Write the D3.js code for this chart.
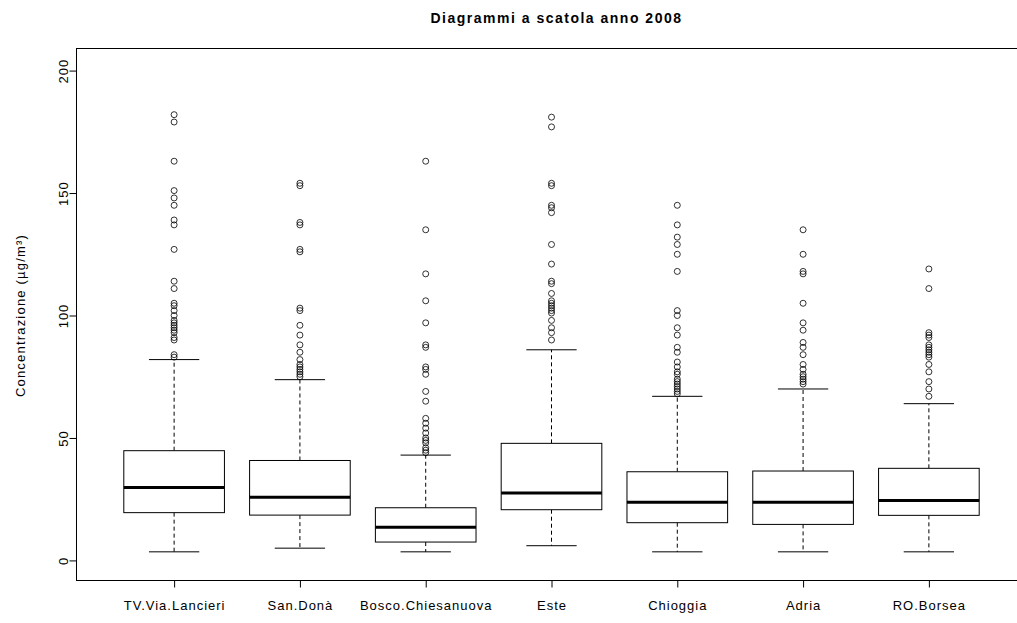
<!doctype html>
<html>
    <head>
        <meta charset="utf-8">
        <script src="https://cdn.jsdelivr.net/npm/d3@7"></script>
        <style type="text/css">
            body {
                margin:0;
                background:#fff;
            }
            svg {
                display:block;
            }
            text {
                font-family:"Liberation Sans",Arial,sans-serif;
                fill:#000;
            }
        </style>
    </head>
    <body>
        <script>
            //stations and the boxplot stats
            var stations = ["TV.Via.Lancieri","San.Donà","Bosco.Chiesanuova","Este","Chioggia","Adria","RO.Borsea"];
            var whiskerLow  = [3.5, 5, 3.5, 6, 3.5, 3.5, 3.5];
            var q1          = [19.5, 18.5, 7.5, 20.7, 15.4, 14.7, 18.4];
            var median      = [29.8, 25.8, 13.5, 27.5, 23.7, 23.7, 24.5];
            var q3          = [44.8, 40.8, 21.5, 47.8, 36.2, 36.5, 37.6];
            var whiskerHigh = [82, 73.8, 43, 86, 67, 70, 64];
            var outliers = [
                [182, 179, 163, 151, 148, 145, 139, 137, 127, 114, 111, 105, 104, 102, 100, 98, 97, 96, 95, 94, 93, 91, 90, 84, 83],
                [154, 153, 138, 137, 127, 126, 103, 102, 96, 92, 88, 85, 82, 80, 79, 78, 77, 76, 75],
                [163, 135, 117, 106, 97, 88, 87, 79, 78, 76, 69, 65, 58, 56, 54, 52, 50, 49, 48, 46, 45, 44],
                [181, 177, 154, 153, 145, 144, 142, 129, 121, 114, 113, 109, 106, 105, 104, 103, 102, 101, 98, 95, 93, 90],
                [145, 137, 132, 129, 125, 118, 102, 100, 95, 92, 87, 85, 81, 79, 77, 76, 74, 73, 72, 71, 70, 69, 68],
                [135, 125, 118, 117, 105, 97, 94, 89, 87, 84, 80, 78, 76, 75, 74, 73, 72],
                [119, 111, 93, 92, 91, 88, 87, 86, 85, 84, 83, 80, 77, 73, 70, 67]
            ];
            var yTicks = [0, 50, 100, 150, 200];

            var width = 1017, height = 623;
            var plotLeft = 76, plotRight = 1027, plotTop = 51, plotBottom = 580;

            var svg = d3.select("body").append("svg")
                .attr("width", width)
                .attr("height", height);

            //R style: positions 1..n, xlim 0.5..n+0.5 plus 4%
            var x = d3.scaleLinear().domain([0.22, 7.78]).range([plotLeft, plotRight]);
            var y = d3.scaleLinear().domain([-8, 208]).range([plotBottom, plotTop]);
            var halfBox = x(1.4) - x(1);
            var halfStaple = halfBox / 2;

            //title
            svg.append("text")
                .attr("x", (plotLeft + plotRight) / 2 + 5)
                .attr("y", 23)
                .attr("text-anchor", "middle")
                .style("font-size", "14px")
                .style("letter-spacing", "1.5px")
                .style("font-weight", "bold")
                .text("Diagrammi a scatola anno 2008");

            //frame (right side falls off the page, as in the original)
            svg.append("rect")
                .attr("x", plotLeft + 0.5)
                .attr("y", plotTop - 2.5)
                .attr("width", plotRight - plotLeft)
                .attr("height", plotBottom - plotTop + 3)
                .attr("fill", "none")
                .attr("stroke", "#000")
                .attr("stroke-width", 1);

            //y axis
            var yAxis = svg.append("g")
                .attr("transform", "translate(" + (plotLeft + 0.5) + ",0)")
                .call(d3.axisLeft(y).tickValues(yTicks).tickSize(7));
            yAxis.select(".domain").remove();
            yAxis.selectAll(".tick line").attr("stroke", "#000");
            yAxis.selectAll(".tick text")
                .attr("transform", "rotate(-90)")
                .attr("x", 0)
                .attr("y", -9)
                .attr("dy", 0)
                .attr("text-anchor", "middle")
                .style("font-size", "13px")
                .style("letter-spacing", "1px")
                .style("font-family", "'Liberation Sans',Arial,sans-serif")
                .attr("fill", "#000");

            svg.append("text")
                .attr("transform", "translate(25," + y(100) + ") rotate(-90)")
                .attr("text-anchor", "middle")
                .style("font-size", "13px")
                .style("letter-spacing", "1.2px")
                .text("Concentrazione (µg/m³)");

            //x axis
            var xAxis = svg.append("g")
                .attr("transform", "translate(0," + (plotBottom + 0.5) + ")")
                .call(d3.axisBottom(x)
                    .tickValues(d3.range(1, stations.length + 1))
                    .tickFormat(function(d) { return stations[d - 1]; })
                    .tickSize(7)
                    .tickPadding(13));
            xAxis.select(".domain").remove();
            xAxis.selectAll(".tick line").attr("stroke", "#000");
            xAxis.selectAll(".tick text")
                .style("font-size", "13px")
                .style("letter-spacing", "1px")
                .style("font-family", "'Liberation Sans',Arial,sans-serif")
                .attr("fill", "#000");

            //boxes
            var boxes = svg.append("g").selectAll("g")
                .data(stations)
                .enter()
                .append("g");

            boxes.each(function(d, i) {
                var g = d3.select(this);
                var cx = x(i + 1);

                //whiskers
                g.append("line")
                    .attr("x1", cx).attr("x2", cx)
                    .attr("y1", y(q3[i])).attr("y2", y(whiskerHigh[i]))
                    .attr("stroke", "#000").attr("stroke-dasharray", "4,3");
                g.append("line")
                    .attr("x1", cx).attr("x2", cx)
                    .attr("y1", y(q1[i])).attr("y2", y(whiskerLow[i]))
                    .attr("stroke", "#000").attr("stroke-dasharray", "4,3");

                //staples
                [whiskerHigh[i], whiskerLow[i]].forEach(function(v) {
                    g.append("line")
                        .attr("x1", cx - halfStaple).attr("x2", cx + halfStaple)
                        .attr("y1", y(v)).attr("y2", y(v))
                        .attr("stroke", "#000");
                });

                //box
                g.append("rect")
                    .attr("x", cx - halfBox)
                    .attr("y", y(q3[i]))
                    .attr("width", 2 * halfBox)
                    .attr("height", y(q1[i]) - y(q3[i]))
                    .attr("fill", "#fff")
                    .attr("stroke", "#000");

                //median
                g.append("line")
                    .attr("x1", cx - halfBox).attr("x2", cx + halfBox)
                    .attr("y1", y(median[i])).attr("y2", y(median[i]))
                    .attr("stroke", "#000").attr("stroke-width", 3);

                //outliers
                g.selectAll("circle")
                    .data(outliers[i])
                    .enter()
                    .append("circle")
                    .attr("cx", cx)
                    .attr("cy", function(v) { return y(v); })
                    .attr("r", 3)
                    .attr("fill", "none")
                    .attr("stroke", "#000")
                    .attr("stroke-width", 0.8);
            });
        </script>
    </body>
</html>
